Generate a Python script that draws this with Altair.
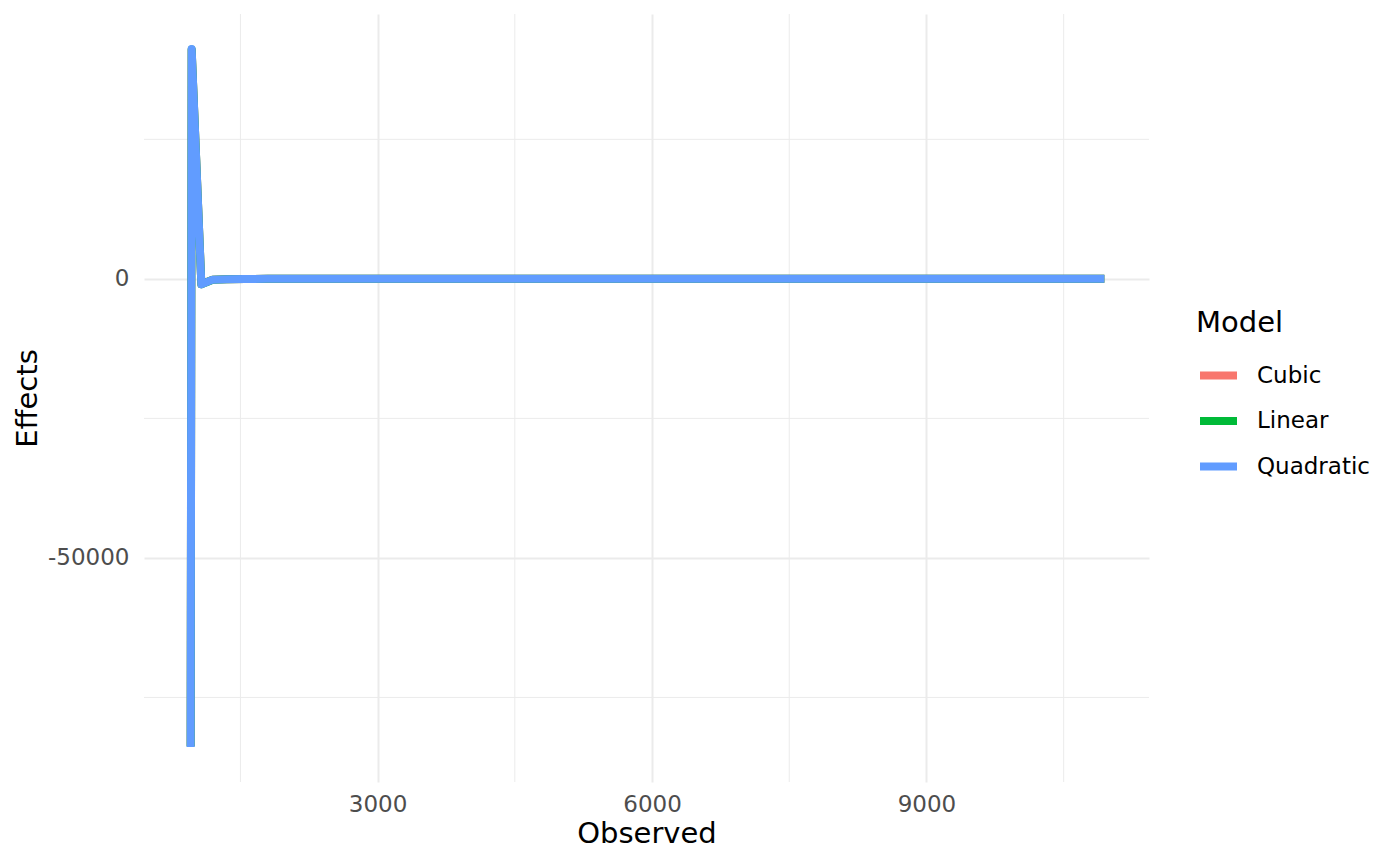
import altair as alt
import pandas as pd

# 觀測值（x）與三個模型的效果值（y）
observed = [956, 967, 1073, 1197, 1350, 1550, 1800, 2100, 2500, 3200, 4500, 6000, 8000, 10945]
cubic = [-83700, 41000, -950, -140, -60, -20, 0, 10, 0, 0, 0, 0, 0, 0]
linear = [-83800, 41100, -980, -150, -60, -20, 0, 10, 0, 0, 0, 0, 0, 0]
quadratic = [-83900, 41200, -1000, -150, -60, -20, 0, 10, 0, 0, 0, 0, 0, 0]

models = ["Cubic", "Linear", "Quadratic"]
model_colors = ["#F8766D", "#00BA38", "#619CFF"]

x_major = [3000, 6000, 9000]
x_minor = [1500, 4500, 7500, 10500]
y_major = [-50000, 0]
y_minor = [-75000, -25000, 25000]

x_domain = [446, 11433]
y_domain = [-90155, 47455]

FONT = "DejaVu Sans"
GRID = "#EBEBEB"
TICK_SIZE = 23
TITLE_SIZE = 29

rows = []
for name, values in zip(models, [cubic, linear, quadratic]):
    for xv, yv in zip(observed, values):
        rows.append({"Observed": xv, "Effects": yv, "Model": name})
df = pd.DataFrame(rows)

x_scale = alt.Scale(domain=x_domain, nice=False, zero=False)
y_scale = alt.Scale(domain=y_domain, nice=False, zero=False)


def axis_style(values, label_padding, title_padding):
    # ggplot theme_minimal 風格：無軸線、無刻度，只留格線
    return alt.Axis(
        values=values,
        labelExpr="'' + datum.value",
        grid=True,
        gridColor=GRID,
        gridWidth=2,
        domain=False,
        ticks=False,
        labelFontSize=TICK_SIZE,
        labelColor="#4D4D4D",
        labelPadding=label_padding,
        labelFont=FONT,
        titleFont=FONT,
        titleFontSize=TITLE_SIZE,
        titleFontWeight="normal",
        titleColor="black",
        titlePadding=title_padding,
    )


minor_x = (
    alt.Chart(pd.DataFrame({"v": x_minor}))
    .mark_rule(color=GRID, strokeWidth=1)
    .encode(x=alt.X("v:Q", scale=x_scale))
)
minor_y = (
    alt.Chart(pd.DataFrame({"v": y_minor}))
    .mark_rule(color=GRID, strokeWidth=1)
    .encode(y=alt.Y("v:Q", scale=y_scale))
)

lines = (
    alt.Chart(df)
    .mark_line(strokeWidth=8, strokeCap="butt", strokeJoin="round")
    .encode(
        x=alt.X("Observed:Q", scale=x_scale, title="Observed",
                axis=axis_style(x_major, 11, 3)),
        y=alt.Y("Effects:Q", scale=y_scale, title="Effects",
                axis=axis_style(y_major, 15, 5)),
        color=alt.Color(
            "Model:N",
            scale=alt.Scale(domain=models, range=model_colors),
            legend=alt.Legend(
                title="Model",
                orient="none",
                legendX=1052,
                legendY=295,
                symbolType="stroke",
                symbolStrokeWidth=8,
                symbolSize=1369,
                labelFontSize=TICK_SIZE,
                labelFont=FONT,
                labelColor="black",
                labelOffset=16,
                rowPadding=6.5,
                titleFont=FONT,
                titleFontSize=TITLE_SIZE,
                titleFontWeight="normal",
                titleColor="black",
                titlePadding=15,
            ),
        ),
    )
)

chart = (
    alt.layer(minor_x, minor_y, lines)
    .properties(width=1005, height=768, padding=5)
    .configure_view(stroke=None)
)

chart.save("out.html", embed_options={"renderer": "svg", "actions": False})
